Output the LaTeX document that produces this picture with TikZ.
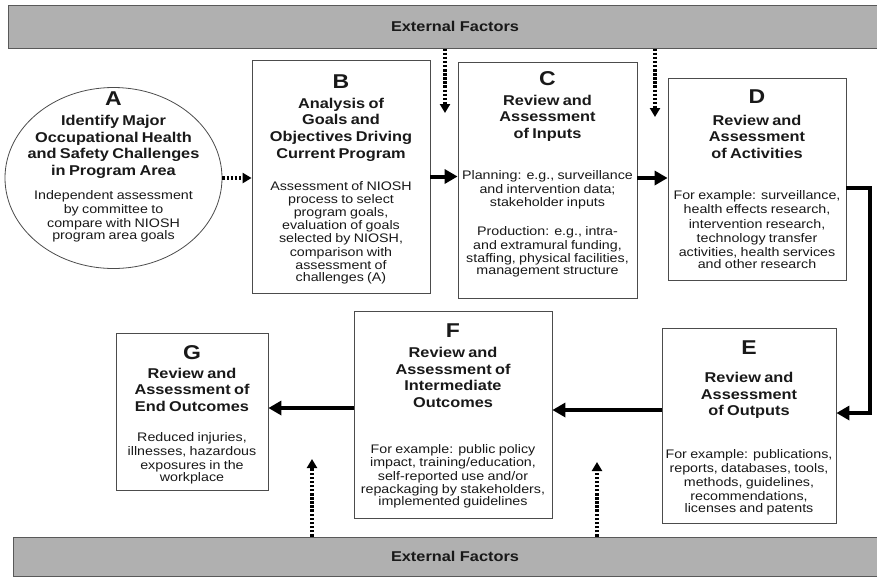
\documentclass[tikz,border=0pt]{standalone}
\usepackage{fontspec}
\setmainfont{Liberation Sans}[FakeStretch=1.15]
\usetikzlibrary{shapes.geometric,arrows.meta,positioning}
\newcommand{\letterfont}{\fontsize{20}{22}\selectfont\bfseries}
\newcommand{\titlefont}{\fontsize{14.2}{16.6}\selectfont\bfseries}
\newcommand{\bodyfont}[1][13.6]{\fontsize{12.4}{#1}\selectfont\mdseries}

\begin{document}
\begin{tikzpicture}[x=1pt,y=-1pt]
        \tikzstyle{every node}=[align=center,text=black!90,inner sep=0pt]
        \tikzstyle{stage}=[draw=black!70,line width=0.8pt,fill=white]
        \tikzstyle{factors}=[draw=black!65,line width=1pt,fill=gray!62,font=\titlefont]
        \tikzstyle{flow}=[line width=4pt,-{Triangle[length=13pt,width=14pt]}]
        \tikzstyle{influence}=[line width=3.5pt,dash pattern=on 2.5pt off 1.6pt,-{Triangle[length=9pt,width=10pt]}]
        \useasboundingbox (0,0) rectangle (877,582);
        \node[factors,minimum width=894,minimum height=43] (top) at (455,26.5) {External Factors};
        \node[factors,minimum width=884,minimum height=39] (bottom) at (455,556.5) {External Factors};
        \node[stage,ellipse,minimum width=217,minimum height=181] (A) at (113.5,178) {};
        \node[text width=205] (Atext) at (113.5,166.7) {\letterfont A\par\vspace{3.3pt}\titlefont Identify Major\\Occupational Health\\and Safety Challenges\\in Program Area\par\vspace{10.7pt}\bodyfont[13.7] Independent assessment\\by committee to\\compare with NIOSH\\program area goals};
        \node[stage,minimum width=178,minimum height=233,text width=178] (B) at (341,176.5) {\letterfont\rule{0pt}{19.3pt}B\par\vspace{3.3pt}\titlefont Analysis of\\Goals and\\Objectives Driving\\Current Program\par\vspace{18.7pt}\bodyfont[13.2] Assessment of NIOSH\\process to select\\program goals,\\evaluation of goals\\selected by NIOSH,\\comparison with\\assessment of\\challenges (A)};
        \node[stage,minimum width=179,minimum height=236,text width=179] (C) at (547.5,180) {\letterfont C\par\vspace{3.3pt}\titlefont Review and\\Assessment\\of Inputs\par\vspace{27.7pt}\bodyfont[13.5] Planning: e.g., surveillance\\and intervention data;\\stakeholder inputs\par\vspace{15.5pt}Production: e.g., intra-\\and extramural funding,\\staffing, physical facilities,\\management structure\rule[-14.2pt]{0pt}{14.2pt}};
        \node[stage,minimum width=178,minimum height=202,text width=178] (D) at (757,179) {\letterfont D\par\vspace{5.3pt}\titlefont Review and\\Assessment\\of Activities\par\vspace{27.1pt}\bodyfont[14.2] For example: surveillance,\\health effects research,\\intervention research,\\technology transfer\\activities, health services\\and other research};
        \node[stage,minimum width=174,minimum height=195,text width=174] (E) at (749,425.5) {\letterfont\rule{0pt}{18.9pt}E\par\vspace{11.3pt}\titlefont Review and\\Assessment\\of Outputs\par\vspace{28.1pt}\bodyfont[14.2] For example: publications,\\reports, databases, tools,\\methods, guidelines,\\recommendations,\\licenses and patents};
        \node[stage,minimum width=198,minimum height=207,text width=198] (F) at (453,414.5) {\letterfont\rule{0pt}{16.9pt}F\par\vspace{3.3pt}\titlefont Review and\\Assessment of\\Intermediate\\Outcomes\par\vspace{32.7pt}\bodyfont[13.3] For example: public policy\\impact, training/education,\\self-reported use and/or\\repackaging by stakeholders,\\implemented guidelines};
        \node[stage,minimum width=152,minimum height=157,text width=152] (G) at (192,411.5) {\letterfont\rule{0pt}{19.9pt}G\par\vspace{2.3pt}\titlefont Review and\\Assessment of\\End Outcomes\par\vspace{16.7pt}\bodyfont[13.7] Reduced injuries,\\illnesses, hazardous\\exposures in the\\workplace};
        \coordinate (cTip) at (445,113);
        \coordinate (dTip) at (655,117);
        \coordinate (gTip) at (312,459);
        \coordinate (fTip) at (597,462);
        \coordinate (bend) at (870,413);
        \draw[influence] (A.east) -- (A.east -| B.west);
        \draw[flow] (B.east) -- (B.east -| C.west);
        \draw[flow] (C.east |- 0,178) -- (D.west |- 0,178);
        \draw[flow] (D.east |- 0,188) -| (bend) -- (bend -| E.east);
        \draw[flow] (E.west |- 0,410) -- (F.east |- 0,410);
        \draw[flow] (F.west |- 0,408) -- (G.east |- 0,408);
        \draw[influence] (top.south -| cTip) -- (cTip);
        \draw[influence] (top.south -| dTip) -- (dTip);
        \draw[influence] (bottom.north -| gTip) -- (gTip);
        \draw[influence] (bottom.north -| fTip) -- (fTip);
    \end{tikzpicture}
\end{document}
